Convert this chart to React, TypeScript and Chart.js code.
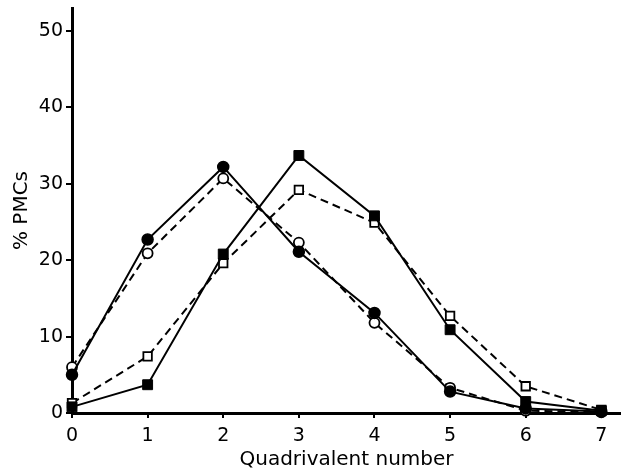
import React, { useEffect, useRef } from "react";
import { Chart, registerables } from "chart.js";

Chart.register(...registerables);

const quadrivalentNumbers = [0, 1, 2, 3, 4, 5, 6, 7];
const filledCircle = [5.0, 22.7, 32.2, 21.1, 13.1, 2.8, 0.6, 0.2];
const openCircle = [6.0, 20.9, 30.7, 22.3, 11.8, 3.3, 0.3, 0.1];
const filledSquare = [0.8, 3.7, 20.8, 33.7, 25.8, 10.9, 1.5, 0.3];
const openSquare = [1.3, 7.4, 19.6, 29.2, 24.9, 12.7, 3.5, 0.4];
const xTicks = [0, 1, 2, 3, 4, 5, 6, 7];
const yTicks = [0, 10, 20, 30, 40, 50];

const toPoints = (vals: number[]) => quadrivalentNumbers.map((x, i) => ({ x, y: vals[i] }));

const zeroPadding = (s: any) => {
  s.paddingTop = 0;
  s.paddingBottom = 0;
  s.paddingLeft = 0;
  s.paddingRight = 0;
};

export default function App() {
  const ref = useRef<HTMLCanvasElement | null>(null);
  useEffect(() => {
    document.body.style.margin = "0";
    const tickFont = { family: "'DejaVu Sans', sans-serif", size: 19 };
    const titleFont = { family: "'DejaVu Sans', sans-serif", size: 20 };
    const chart = new Chart(ref.current!, {
      type: "scatter",
      data: {
        datasets: [
          {
            label: "filled circle",
            data: toPoints(filledCircle),
            showLine: true,
            clip: false,
            borderColor: "#000",
            backgroundColor: "#000",
            borderWidth: 2,
            pointStyle: "circle",
            pointRadius: 5.5,
            pointBorderWidth: 1.5,
          },
          {
            label: "open circle",
            data: toPoints(openCircle),
            showLine: true,
            clip: false,
            borderColor: "#000",
            backgroundColor: "#fff",
            borderWidth: 2,
            borderDash: [8, 5],
            pointStyle: "circle",
            pointRadius: 5,
            pointBorderWidth: 1.8,
          },
          {
            label: "filled square",
            data: toPoints(filledSquare),
            showLine: true,
            clip: false,
            borderColor: "#000",
            backgroundColor: "#000",
            borderWidth: 2,
            pointStyle: "rect",
            pointRadius: 7,
            pointBorderWidth: 1,
          },
          {
            label: "open square",
            data: toPoints(openSquare),
            showLine: true,
            clip: false,
            borderColor: "#000",
            backgroundColor: "#fff",
            borderWidth: 2,
            borderDash: [8, 5],
            pointStyle: "rect",
            pointRadius: 6,
            pointBorderWidth: 1.8,
          },
        ],
      },
      options: {
        animation: false,
        responsive: false,
        maintainAspectRatio: false,
        layout: { autoPadding: false, padding: { top: 8, right: 0, left: 0, bottom: 0 } },
        plugins: { legend: { display: false }, tooltip: { enabled: false } },
        scales: {
          x: {
            type: "linear",
            min: 0,
            max: 7.26,
            afterFit: (s: any) => {
              s.height = 59;
              zeroPadding(s);
            },
            afterBuildTicks: (s: any) => {
              s.ticks = xTicks.map((v) => ({ value: v }));
            },
            border: { display: true, color: "#000", width: 3 },
            grid: { display: true, drawOnChartArea: false, drawTicks: true, tickLength: 5, color: "#000", lineWidth: 2 },
            ticks: { color: "#000", font: tickFont, padding: 7, maxRotation: 0 },
            title: { display: true, text: "Quadrivalent number", color: "#000", font: titleFont, padding: { top: 0, bottom: 0 } },
          },
          y: {
            type: "linear",
            min: 0,
            max: 53,
            afterFit: (s: any) => {
              s.width = 72;
              zeroPadding(s);
            },
            afterBuildTicks: (s: any) => {
              s.ticks = yTicks.map((v) => ({ value: v }));
            },
            border: { display: true, color: "#000", width: 3 },
            grid: { display: true, drawOnChartArea: false, drawTicks: true, tickLength: 6, color: "#000", lineWidth: 2 },
            ticks: { color: "#000", font: tickFont, padding: 3 },
            title: { display: true, text: "% PMCs", color: "#000", font: titleFont, padding: { top: 10, bottom: 0 } },
          },
        },
      },
    });
    return () => chart.destroy();
  }, []);
  return (
    <div style={{ position: "fixed", left: 0, top: 0, width: 621, height: 472, background: "#fff" }}>
      <canvas ref={ref} width={621} height={472} style={{ width: 621, height: 472 }} />
    </div>
  );
}
